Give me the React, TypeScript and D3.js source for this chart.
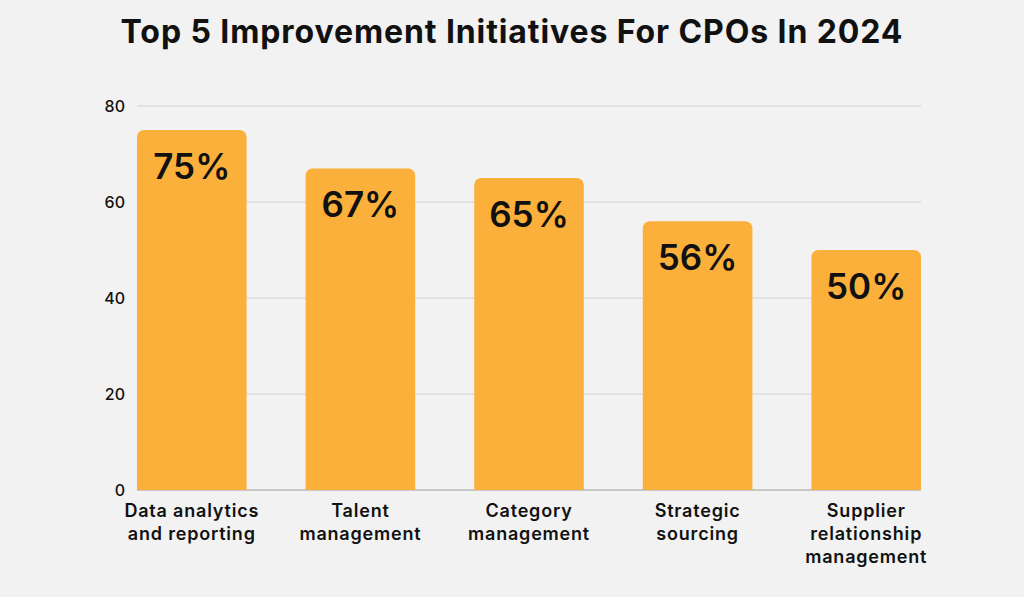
import React from "react";
import * as d3 from "d3";

const categories: string[][] = [
  ["Data analytics", "and reporting"],
  ["Talent", "management"],
  ["Category", "management"],
  ["Strategic", "sourcing"],
  ["Supplier", "relationship", "management"],
];
const values: number[] = [75, 67, 65, 56, 50];
const yTicks: number[] = [0, 20, 40, 60, 80];
const title = "Top 5 Improvement Initiatives For CPOs In 2024";

const W = 1024;
const H = 597;
const left = 137;
const right = 921;
const top = 106;
const bottom = 490;

export default function App() {
  const ids = values.map((_, i) => String(i));
  const x = d3.scaleBand<string>().domain(ids).range([left, right]).paddingInner(0.35).paddingOuter(0);
  const y = d3.scaleLinear().domain([0, 80]).range([bottom, top]);
  const bw = x.bandwidth();
  const r = 7;
  const barPath = (x0: number, y0: number, w: number, h: number) => {
    const p = d3.path();
    p.moveTo(x0, y0 + h);
    p.lineTo(x0, y0 + r);
    p.arcTo(x0, y0, x0 + r, y0, r);
    p.lineTo(x0 + w - r, y0);
    p.arcTo(x0 + w, y0, x0 + w, y0 + r, r);
    p.lineTo(x0 + w, y0 + h);
    p.closePath();
    return p.toString();
  };
  return (
    <svg width={W} height={H} style={{ position: "absolute", left: 0, top: 0, background: "#f2f2f2" }}>
      <rect x={0} y={0} width={W} height={H} fill="#f2f2f2" />
      <text x={512} y={43} textAnchor="middle" fontFamily="Inter" fontWeight={700} fontSize={32} letterSpacing={0.9} fill="#111">
        {title}
      </text>
      {yTicks.map((t) => (
        <g key={t}>
          <line x1={left} x2={right} y1={y(t)} y2={y(t)} stroke={t === 0 ? "#b8b8b8" : "#d0d0d0"} strokeWidth={t === 0 ? 1.5 : 1} />
          <text x={125} y={y(t) + 6} textAnchor="end" fontFamily="Inter" fontWeight={500} fontSize={16} fill="#111">
            {t}
          </text>
        </g>
      ))}
      {values.map((v, i) => {
        const bx = x(String(i))!;
        const by = y(v);
        return (
          <g key={i}>
            <path d={barPath(bx, by, bw, bottom - by)} fill="#fbb03b" />
            <text x={bx + bw / 2} y={by + 49} textAnchor="middle" fontFamily="Inter" fontWeight={600} fontSize={35} fill="#111">
              {v}%
            </text>
            {categories[i].map((line, j) => (
              <text key={j} x={bx + bw / 2} y={517 + j * 23} textAnchor="middle" fontFamily="Inter" fontWeight={600} fontSize={18} letterSpacing={0.8} fill="#111">
                {line}
              </text>
            ))}
          </g>
        );
      })}
    </svg>
  );
}
